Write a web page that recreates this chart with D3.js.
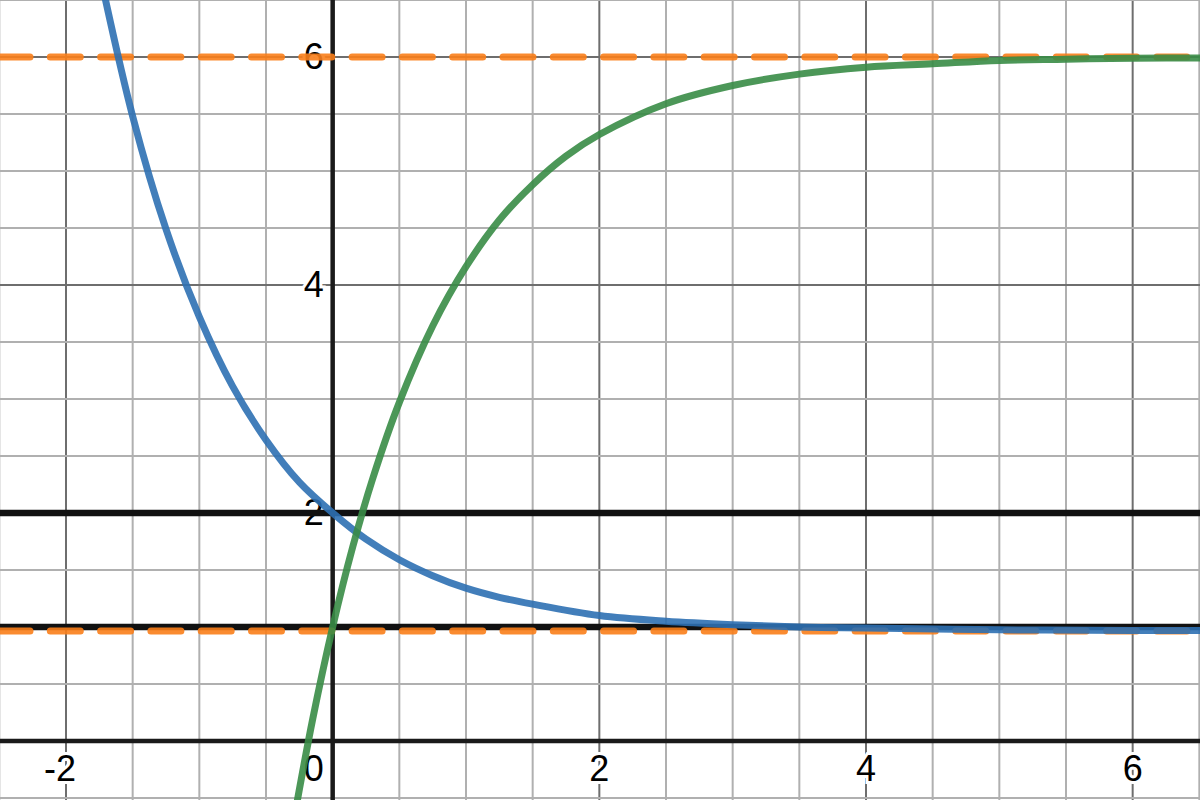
<!DOCTYPE html>
<html>
<head>
<meta charset="utf-8">
<script src="https://cdn.jsdelivr.net/npm/d3@7"></script>
<style>
  body { margin: 0; background: #fff; }
  text { font-family: "Liberation Sans", Arial, sans-serif; }
</style>
</head>
<body>
<div id="chart-area"></div>
<script>
let width = 1200,
  height = 800;

// values
let blueX = [-1.75, -1.5, -1.25, -1, -0.75, -0.5, -0.25, 0, 0.25, 0.5, 0.75, 1, 1.25, 1.5, 2, 2.5, 3, 3.5, 4, 5, 6, 6.6];
let blueY = [6.75, 5.48, 4.49, 3.72, 3.11, 2.64, 2.27, 2.0, 1.77, 1.59, 1.45, 1.34, 1.26, 1.2, 1.1, 1.05, 1.02, 1.0, 0.99, 0.975, 0.97, 0.97];

let greenX = [-0.3, -0.15, 0, 0.15, 0.3, 0.5, 0.75, 1, 1.25, 1.5, 1.75, 2, 2.5, 3, 3.5, 4, 4.5, 5, 5.5, 6, 6.6];
let greenY = [-0.75, 0.19, 1.0, 1.7, 2.3, 2.97, 3.64, 4.16, 4.57, 4.88, 5.13, 5.32, 5.59, 5.75, 5.85, 5.91, 5.94, 5.97, 5.98, 5.99, 5.99];

let blackLevels = [2, 1];
let orangeLevels = [6, 0.965];

let xTickLabels = [-2, 0, 2, 4, 6];
let yTickLabels = [2, 4, 6];

let svg = d3
  .select("#chart-area")
  .append("svg")
  .attr("width", width)
  .attr("height", height);

let xScale = d3.scaleLinear().domain([-2.495, 6.505]).range([0, width]);
let yScale = d3.scaleLinear().domain([-0.518, 6.5]).range([height, 0]);

// grid: minor every 0.5, major every 2
let xGrid = d3.range(-2.5, 6.51, 0.5);
let yGrid = d3.range(-0.5, 6.51, 0.5);
let isMajor = v => Math.abs(v / 2 - Math.round(v / 2)) < 1e-6;

svg.append("g")
  .selectAll("line")
  .data(xGrid.filter(v => v !== 0))
  .enter()
  .append("line")
  .attr("x1", d => xScale(d))
  .attr("x2", d => xScale(d))
  .attr("y1", 0)
  .attr("y2", height)
  .attr("stroke", d => (isMajor(d) ? "#6e6e6e" : "#b0b0b0"))
  .attr("stroke-width", 2);

svg.append("g")
  .selectAll("line")
  .data(yGrid.filter(v => v !== 0))
  .enter()
  .append("line")
  .attr("y1", d => yScale(d))
  .attr("y2", d => yScale(d))
  .attr("x1", 0)
  .attr("x2", width)
  .attr("stroke", d => (isMajor(d) ? "#6e6e6e" : "#b0b0b0"))
  .attr("stroke-width", 2);

// axes
svg.append("line")
  .attr("x1", 0).attr("x2", width)
  .attr("y1", yScale(0)).attr("y2", yScale(0))
  .attr("stroke", "#1a1a1a").attr("stroke-width", 4.5);
svg.append("line")
  .attr("x1", xScale(0)).attr("x2", xScale(0))
  .attr("y1", 0).attr("y2", height)
  .attr("stroke", "#1a1a1a").attr("stroke-width", 4.5);

// tick labels with white halo
let fs = 36;
svg.append("g")
  .selectAll("text")
  .data(xTickLabels)
  .enter()
  .append("text")
  .attr("x", d => (d === 0 ? xScale(0) - 9 : xScale(d) + 10))
  .attr("y", yScale(0) + 40)
  .attr("text-anchor", "end")
  .style("font-size", fs + "px")
  .attr("fill", "#000")
  .attr("stroke", "#fff")
  .attr("stroke-width", 6)
  .attr("paint-order", "stroke")
  .text(d => d);

svg.append("g")
  .selectAll("text")
  .data(yTickLabels)
  .enter()
  .append("text")
  .attr("x", xScale(0) - 9)
  .attr("y", d => yScale(d) + 12)
  .attr("text-anchor", "end")
  .style("font-size", fs + "px")
  .attr("fill", "#000")
  .attr("stroke", "#fff")
  .attr("stroke-width", 6)
  .attr("paint-order", "stroke")
  .text(d => d);

// black horizontal lines
svg.append("g")
  .selectAll("line")
  .data(blackLevels)
  .enter()
  .append("line")
  .attr("x1", 0).attr("x2", width)
  .attr("y1", d => yScale(d)).attr("y2", d => yScale(d))
  .attr("stroke", "#111")
  .attr("stroke-width", 6.5);

// orange dashed lines
svg.append("g")
  .selectAll("line")
  .data(orangeLevels)
  .enter()
  .append("line")
  .attr("x1", 0).attr("x2", width)
  .attr("y1", d => yScale(d)).attr("y2", d => yScale(d))
  .attr("stroke", "#fa7e19")
  .attr("stroke-opacity", 0.9)
  .attr("stroke-width", 7)
  .attr("stroke-linecap", "round")
  .attr("stroke-dasharray", "30 20.3");

// curves
let line = d3
  .line()
  .x(d => xScale(d[0]))
  .y(d => yScale(d[1]))
  .curve(d3.curveCatmullRom);

svg.append("path")
  .datum(d3.zip(blueX, blueY))
  .attr("d", line)
  .attr("fill", "none")
  .attr("stroke", "#2d70b3")
  .attr("stroke-opacity", 0.9)
  .attr("stroke-width", 7);

svg.append("path")
  .datum(d3.zip(greenX, greenY))
  .attr("d", line)
  .attr("fill", "none")
  .attr("stroke", "#388c46")
  .attr("stroke-opacity", 0.9)
  .attr("stroke-width", 7);
</script>
</body>
</html>
